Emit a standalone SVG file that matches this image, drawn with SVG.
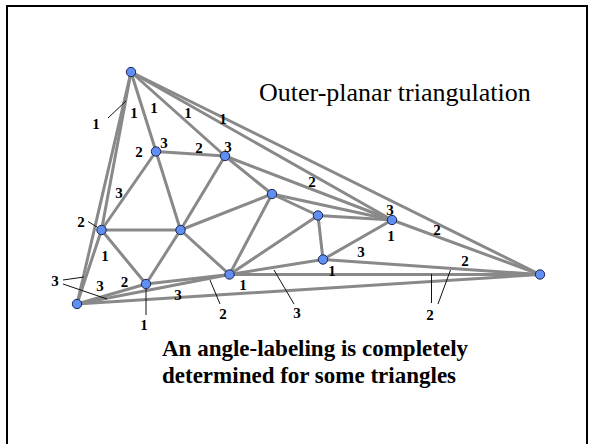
<svg xmlns="http://www.w3.org/2000/svg" width="592" height="444" viewBox="0 0 592 444">
<style>
.e{stroke:#898989;stroke-width:3;fill:none;stroke-linecap:round}
.ld{stroke:#111;stroke-width:1;fill:none}
.n{fill:#5f8ff2;stroke:#1c2450;stroke-width:1}
.lb{font-family:"Liberation Serif","Times New Roman",serif;font-weight:bold;font-size:15px;text-anchor:middle;fill:#000}
.t{font-family:"Liberation Serif","Times New Roman",serif;fill:#000}
</style>
<rect x="7" y="6" width="580" height="450" fill="#fff" stroke="#000" stroke-width="2"/>
<g id="connectors">
<line class="e" x1="131" y1="72" x2="77" y2="304"/>
<line class="e" x1="131" y1="72" x2="101.5" y2="230"/>
<line class="e" x1="131" y1="72" x2="156" y2="151.5"/>
<line class="e" x1="131" y1="72" x2="225" y2="156"/>
<line class="e" x1="131" y1="72" x2="392" y2="220"/>
<line class="e" x1="131" y1="72" x2="540" y2="274.5"/>
<line class="e" x1="77" y1="304" x2="101.5" y2="230"/>
<line class="e" x1="77" y1="304" x2="146" y2="284"/>
<line class="e" x1="77" y1="304" x2="229.5" y2="274.5"/>
<line class="e" x1="77" y1="304" x2="540" y2="274.5"/>
<line class="e" x1="540" y1="274.5" x2="392" y2="220"/>
<line class="e" x1="540" y1="274.5" x2="323" y2="259.5"/>
<line class="e" x1="540" y1="274.5" x2="229.5" y2="274.5"/>
<line class="e" x1="156" y1="151.5" x2="225" y2="156"/>
<line class="e" x1="156" y1="151.5" x2="101.5" y2="230"/>
<line class="e" x1="156" y1="151.5" x2="180.5" y2="230"/>
<line class="e" x1="225" y1="156" x2="180.5" y2="230"/>
<line class="e" x1="225" y1="156" x2="272" y2="194"/>
<line class="e" x1="225" y1="156" x2="392" y2="220"/>
<line class="e" x1="101.5" y1="230" x2="180.5" y2="230"/>
<line class="e" x1="101.5" y1="230" x2="146" y2="284"/>
<line class="e" x1="180.5" y1="230" x2="146" y2="284"/>
<line class="e" x1="180.5" y1="230" x2="272" y2="194"/>
<line class="e" x1="180.5" y1="230" x2="229.5" y2="274.5"/>
<line class="e" x1="146" y1="284" x2="229.5" y2="274.5"/>
<line class="e" x1="229.5" y1="274.5" x2="272" y2="194"/>
<line class="e" x1="229.5" y1="274.5" x2="318" y2="215.5"/>
<line class="e" x1="229.5" y1="274.5" x2="323" y2="259.5"/>
<line class="e" x1="272" y1="194" x2="318" y2="215.5"/>
<line class="e" x1="272" y1="194" x2="392" y2="220"/>
<line class="e" x1="318" y1="215.5" x2="323" y2="259.5"/>
<line class="e" x1="318" y1="215.5" x2="392" y2="220"/>
<line class="e" x1="323" y1="259.5" x2="392" y2="220"/>
<line class="ld" x1="108" y1="118" x2="126" y2="101"/>
<line class="ld" x1="88" y1="221.5" x2="97" y2="227"/>
<line class="ld" x1="63" y1="280" x2="84" y2="277"/>
<line class="ld" x1="63" y1="284" x2="107" y2="299"/>
<line class="ld" x1="146" y1="288" x2="146" y2="315"/>
<line class="ld" x1="210" y1="280" x2="220" y2="304"/>
<line class="ld" x1="274" y1="270" x2="294" y2="304"/>
<line class="ld" x1="431.5" y1="274" x2="431.5" y2="303"/>
<line class="ld" x1="450.5" y1="270" x2="438" y2="304"/>
</g>
<g id="nA"><circle class="n" cx="131" cy="72" r="4.7"/></g>
<g id="nB"><circle class="n" cx="77" cy="304" r="4.7"/></g>
<g id="nC"><circle class="n" cx="540" cy="274.5" r="4.7"/></g>
<g id="nD"><circle class="n" cx="156" cy="151.5" r="4.7"/></g>
<g id="nE"><circle class="n" cx="225" cy="156" r="4.7"/></g>
<g id="nF"><circle class="n" cx="101.5" cy="230" r="4.7"/></g>
<g id="nG"><circle class="n" cx="180.5" cy="230" r="4.7"/></g>
<g id="nH"><circle class="n" cx="146" cy="284" r="4.7"/></g>
<g id="nI"><circle class="n" cx="229.5" cy="274.5" r="4.7"/></g>
<g id="nJ"><circle class="n" cx="272" cy="194" r="4.7"/></g>
<g id="nK"><circle class="n" cx="318" cy="215.5" r="4.7"/></g>
<g id="nL"><circle class="n" cx="323" cy="259.5" r="4.7"/></g>
<g id="nM"><circle class="n" cx="392" cy="220" r="4.7"/></g>
<g id="labels">
<text class="lb" x="96" y="129">1</text>
<text class="lb" x="134" y="118">1</text>
<text class="lb" x="154" y="113">1</text>
<text class="lb" x="188" y="118">1</text>
<text class="lb" x="223" y="124">1</text>
<text class="lb" x="139" y="157">2</text>
<text class="lb" x="164" y="148">3</text>
<text class="lb" x="199" y="153">2</text>
<text class="lb" x="228" y="152">3</text>
<text class="lb" x="119" y="198">3</text>
<text class="lb" x="81" y="227">2</text>
<text class="lb" x="105" y="261">1</text>
<text class="lb" x="55" y="286">3</text>
<text class="lb" x="100" y="291">3</text>
<text class="lb" x="124.5" y="287">2</text>
<text class="lb" x="144" y="330">1</text>
<text class="lb" x="178" y="300">3</text>
<text class="lb" x="223" y="319">2</text>
<text class="lb" x="243" y="290">1</text>
<text class="lb" x="297" y="318">3</text>
<text class="lb" x="332" y="276">1</text>
<text class="lb" x="361" y="257">3</text>
<text class="lb" x="312" y="187">2</text>
<text class="lb" x="390" y="215">3</text>
<text class="lb" x="391" y="241">1</text>
<text class="lb" x="437" y="235">2</text>
<text class="lb" x="465" y="266">2</text>
<text class="lb" x="430" y="320">2</text>
</g>
<text class="t" x="259" y="101" font-size="26">Outer-planar triangulation</text>
<text class="t" x="162" y="356" font-size="23" font-weight="bold">An angle-labeling is completely</text>
<text class="t" x="162" y="383" font-size="23" font-weight="bold">determined for some triangles</text>
</svg>
